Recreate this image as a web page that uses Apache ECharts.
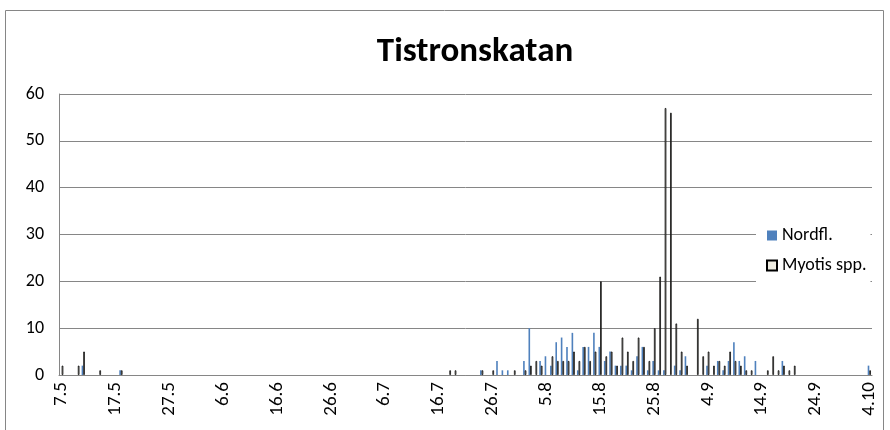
<!DOCTYPE html>
<html><head><meta charset="utf-8">
<script src="https://cdn.jsdelivr.net/npm/echarts@6/dist/echarts.min.js"></script>
<style>html,body{margin:0;padding:0;background:#fff}#c{width:890px;height:430px}</style>
</head><body><div id="c"></div>
<script>
// Categories: one per day, 7 May .. 4 Oct
const mayDays = ['7.5','8.5','9.5','10.5','11.5','12.5','13.5','14.5','15.5','16.5','17.5','18.5','19.5','20.5','21.5','22.5','23.5','24.5','25.5','26.5','27.5','28.5','29.5','30.5','31.5'];
const junDays = ['1.6','2.6','3.6','4.6','5.6','6.6','7.6','8.6','9.6','10.6','11.6','12.6','13.6','14.6','15.6','16.6','17.6','18.6','19.6','20.6','21.6','22.6','23.6','24.6','25.6','26.6','27.6','28.6','29.6','30.6'];
const julDays = ['1.7','2.7','3.7','4.7','5.7','6.7','7.7','8.7','9.7','10.7','11.7','12.7','13.7','14.7','15.7','16.7','17.7','18.7','19.7','20.7','21.7','22.7','23.7','24.7','25.7','26.7','27.7','28.7','29.7','30.7','31.7'];
const augDays = ['1.8','2.8','3.8','4.8','5.8','6.8','7.8','8.8','9.8','10.8','11.8','12.8','13.8','14.8','15.8','16.8','17.8','18.8','19.8','20.8','21.8','22.8','23.8','24.8','25.8','26.8','27.8','28.8','29.8','30.8','31.8'];
const sepDays = ['1.9','2.9','3.9','4.9','5.9','6.9','7.9','8.9','9.9','10.9','11.9','12.9','13.9','14.9','15.9','16.9','17.9','18.9','19.9','20.9','21.9','22.9','23.9','24.9','25.9','26.9','27.9','28.9','29.9','30.9'];
const octDays = ['1.10','2.10','3.10','4.10'];

// Nordfl. per day
const nordflMay = [0,0,0,0,2,0,0,0,0,0,0,1,0,0,0,0,0,0,0,0,0,0,0,0,0];
const nordflJun = [0,0,0,0,0,0,0,0,0,0,0,0,0,0,0,0,0,0,0,0,0,0,0,0,0,0,0,0,0,0];
const nordflJul = [0,0,0,0,0,0,0,0,0,0,0,0,0,0,0,0,0,0,0,0,0,0,0,1,0,0,3,1,1,0,0];
const nordflAug = [3,10,0,3,4,2,7,8,6,9,1,6,6,9,6,3,5,2,2,2,1,4,6,1,3,1,1,0,2,1,4];
const nordflSep = [0,0,0,2,0,3,1,3,7,3,4,0,3,0,0,0,0,3,0,0,0,0,0,0,0,0,0,0,0,0];
const nordflOct = [0,0,0,2];

// Myotis spp. per day
const myotisMay = [2,0,0,2,5,0,0,1,0,0,0,1,0,0,0,0,0,0,0,0,0,0,0,0,0];
const myotisJun = [0,0,0,0,0,0,0,0,0,0,0,0,0,0,0,0,0,0,0,0,0,0,0,0,0,0,0,0,0,0];
const myotisJul = [0,0,0,0,0,0,0,0,0,0,0,0,0,0,0,0,0,1,1,0,0,0,0,1,0,1,0,0,0,1,0];
const myotisAug = [1,2,3,2,0,4,3,3,3,5,3,6,3,5,20,4,5,2,8,5,3,8,6,3,10,21,57,56,11,5,2];
const myotisSep = [0,12,4,5,2,3,2,5,3,2,1,1,0,0,1,4,1,2,1,2,0,0,0,0,0,0,0,0,0,0];
const myotisOct = [0,0,0,1];

const yTicks = [0,10,20,30,40,50,60];

const categories = [].concat(mayDays, junDays, julDays, augDays, sepDays, octDays);
const nordfl = [].concat(nordflMay, nordflJun, nordflJul, nordflAug, nordflSep, nordflOct);
const myotis = [].concat(myotisMay, myotisJun, myotisJul, myotisAug, myotisSep, myotisOct);
const blankZero = a => a.map(v => (v === 0 ? null : v));

const FONT = 'Carlito, Lato, sans-serif';
const chart = echarts.init(document.getElementById('c'), null, {renderer: 'canvas'});
chart.setOption({
  animation: false,
  backgroundColor: '#fff',
  title: {
    text: 'Tistronskatan',
    left: 470, top: 30, textAlign: 'center',
    textStyle: {fontFamily: FONT, fontSize: 35, fontWeight: 'bold', color: '#000'}
  },
  graphic: [{
    type: 'rect', shape: {x: 5.5, y: 10.5, width: 878, height: 440},
    style: {fill: null, stroke: '#868686', lineWidth: 1}, silent: true, z: 20
  }],
  legend: {
    orient: 'vertical', left: 756, top: 219,
    padding: [7, 4, 7, 10], itemGap: 11,
    backgroundColor: '#fff', z: 10,
    itemWidth: 10, itemHeight: 10, icon: 'rect',
    textStyle: {fontFamily: FONT, fontSize: 18, color: '#000', lineHeight: 19},
    data: ['Nordfl.', 'Myotis spp.']
  },
  grid: {left: 59, right: 18, top: 94, bottom: 55, containLabel: false},
  xAxis: {
    type: 'category', data: categories, boundaryGap: true,
    axisLine: {lineStyle: {color: '#868686', width: 1}},
    axisTick: {interval: 9, length: 5, lineStyle: {color: '#868686'}},
    axisLabel: {interval: 9, rotate: 90, margin: 7, fontFamily: FONT, fontSize: 19, color: '#000'},
    splitLine: {show: false}
  },
  yAxis: {
    type: 'value', min: yTicks[0], max: yTicks[yTicks.length - 1], interval: 10,
    axisLine: {show: true, lineStyle: {color: '#868686', width: 1}},
    axisTick: {show: false},
    axisLabel: {margin: 15, fontFamily: FONT, fontSize: 18, color: '#000'},
    splitLine: {lineStyle: {color: '#868686', width: 1}}
  },
  series: [
    {
      name: 'Nordfl.', type: 'bar', data: blankZero(nordfl),
      barWidth: '30%', barGap: '0%',
      itemStyle: {color: '#4F81BD'}
    },
    {
      name: 'Myotis spp.', type: 'bar', data: blankZero(myotis),
      barWidth: '30%', barGap: '0%',
      itemStyle: {color: '#EEECE1', borderColor: '#000', borderWidth: 0.8}
    }
  ]
});
</script>
</body></html>
